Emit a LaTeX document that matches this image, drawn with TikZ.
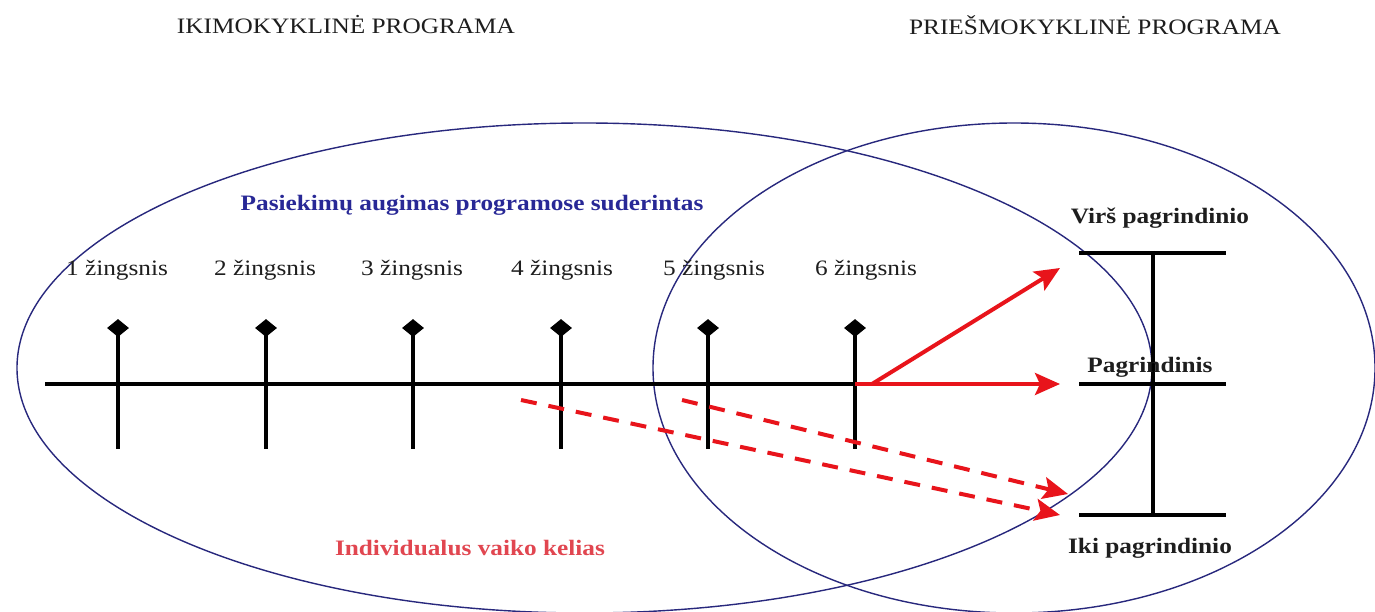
\documentclass[tikz,border=0pt]{standalone}
\usepackage{fontspec}
\setmainfont{Liberation Serif}[FakeStretch=1.15]
\usetikzlibrary{arrows.meta,shapes.geometric}
\definecolor{ellblue}{RGB}{40,40,125}
\definecolor{txtblue}{RGB}{40,40,150}
\definecolor{txtred}{RGB}{225,70,80}
\definecolor{arrred}{RGB}{232,20,27}
\definecolor{txtblack}{RGB}{30,30,30}
\tikzset{
  ell/.style={draw=ellblue, line width=1.4pt},
  blk/.style={draw=black, line width=4.5pt},
  redarrow/.style={draw=arrred, line width=4pt, -{Stealth[length=25pt,width=22pt,inset=5pt]}},
  reddash/.style={redarrow, dash pattern=on 16pt off 12pt},
  dia/.style={diamond, fill=black, minimum width=22pt, minimum height=18pt, inner sep=0pt},
  lbl/.style={inner sep=0pt, font=\fontsize{22pt}{26pt}\selectfont, text=txtblack},
  blbl/.style={lbl, font=\fontsize{22pt}{26pt}\selectfont\bfseries},
}
\begin{document}
\begin{tikzpicture}[x=1pt, y=-1pt]
\useasboundingbox[fill=white] (0,0) rectangle (1375,612);
% titles
\node[lbl] (t1) at (346,25) {IKIMOKYKLINĖ PROGRAMA};
\node[lbl] (t2) at (1095,25) {PRIEŠMOKYKLINĖ PROGRAMA};
% ellipses
\draw[ell] (584.5,368) ellipse [x radius=567.5, y radius=245];
\draw[ell] (1014,368) ellipse [x radius=361, y radius=245];
% labels
\node[blbl, text=txtblue] (pas) at (472,205) {Pasiekimų augimas programose suderintas};
\node[blbl, text=txtred] (ind) at (470,548) {Individualus vaiko kelias};
% timeline
\coordinate (L0) at (45,384);
\coordinate (L1) at (857,384);
\draw[blk] (L0) -- (L1);
\foreach \i/\x/\lx in {1/118/117,2/266/265,3/413/412,4/561/562,5/708/714,6/855/866}{
  \coordinate (tt\i) at (\x,330);
  \coordinate (tb\i) at (\x,449);
  \draw[blk] (tt\i) -- (tb\i);
  \node[dia] (d\i) at (\x,328) {};
  \node[lbl] (s\i) at (\lx,270) {\i~žingsnis};
}
% I-bar
\coordinate (ta) at (1079,253); \coordinate (tb) at (1226,253);
\coordinate (ma) at (1079,384); \coordinate (mb) at (1226,384);
\coordinate (ba) at (1079,515); \coordinate (bb) at (1226,515);
\coordinate (vt) at (1153,251); \coordinate (vb) at (1153,517);
\draw[blk] (ta) -- (tb);
\draw[blk] (ma) -- (mb);
\draw[blk] (ba) -- (bb);
\draw[blk] (vt) -- (vb);
\node[blbl] (virs) at (1160,218) {Virš pagrindinio};
\node[blbl] (pag) at (1150,367) {Pagrindinis};
\node[blbl] (iki) at (1150,548) {Iki pagrindinio};
% red arrows
\coordinate (r0) at (855,384);
\coordinate (r1) at (872,384);
\coordinate (rh) at (1060,384);
\coordinate (ru) at (1060,268);
\draw[redarrow] (r0) -- (rh);
\draw[redarrow] (r1) -- (ru);
\coordinate (da0) at (682,400);
\coordinate (da1) at (1068,494);
\coordinate (db0) at (521,400);
\coordinate (db1) at (1060,515);
\draw[reddash] (da0) -- (da1);
\draw[reddash] (db0) -- (db1);
\end{tikzpicture}
\end{document}
